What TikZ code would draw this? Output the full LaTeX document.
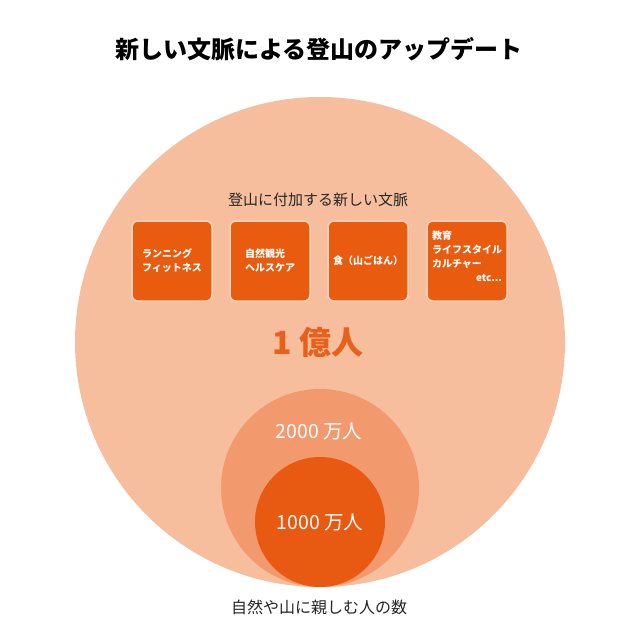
\documentclass[tikz,border=0pt]{standalone}
\usepackage{fontspec}
\setmainfont{Noto Sans CJK JP}
\definecolor{bigc}{HTML}{F7BE9E}
\definecolor{midc}{HTML}{F29A6E}
\definecolor{smallc}{HTML}{E85A12}
\definecolor{boxc}{HTML}{E95B0F}
\definecolor{boxedge}{HTML}{FAD3BC}
\definecolor{okuc}{HTML}{E8601A}
\begin{document}
\begin{tikzpicture}[x=1pt,y=-1pt,
  boxst/.style={fill=boxc,draw=boxedge,line width=1.5pt,rounded corners=6pt,minimum width=80pt,minimum height=80pt,inner sep=0pt},
  boxtext/.style={text=white,font=\fontsize{10}{14}\selectfont\bfseries,align=left,inner sep=0pt},
  circlab/.style={text=white,font=\fontsize{19.5}{22}\selectfont,inner sep=0pt}]
\useasboundingbox (0,0) rectangle (640,640);
\fill[white] (0,0) rectangle (640,640);
\node[font=\fontsize{24}{28}\selectfont\bfseries,text={black}] (title) at (319,49) {新しい文脈による登山のアップデート};
\fill[bigc] (320,342) circle[radius=245];
\fill[midc] (320,488) circle[radius=99];
\fill[smallc] (320,522) circle[radius=65];
\node[font=\fontsize{15}{18}\selectfont,text={black!85}] (sub) at (318,200) {登山に付加する新しい文脈};
\node[boxst] (b1) at (172,261) {};
\node[boxst] (b2) at (270,261) {};
\node[boxst] (b3) at (368,261) {};
\node[boxst] (b4) at (467,261) {};
\node[boxtext] (t1) at (b1.center) {ランニング\\フィットネス};
\node[boxtext] (t2) at (b2.center) {自然観光\\ヘルスケア};
\node[boxtext] (t3) at (b3.center) {食（山ごはん）};
\node[boxtext] (t4) at ([yshift=3pt]b4.center) {\begin{tabular}{@{}l@{}}教育\\ライフスタイル\\カルチャー\\\hfill etc...\end{tabular}};
\node[font=\fontsize{32}{36}\selectfont\bfseries,text=okuc] (oku) at (318,342) {1 億人};
\node[circlab] (m2) at (319,431) {2000 万人};
\node[circlab] (m1) at (320,522) {1000 万人};
\node[font=\fontsize{16}{18}\selectfont,text={black!85}] (foot) at (319,607) {自然や山に親しむ人の数};
\end{tikzpicture}
\end{document}
